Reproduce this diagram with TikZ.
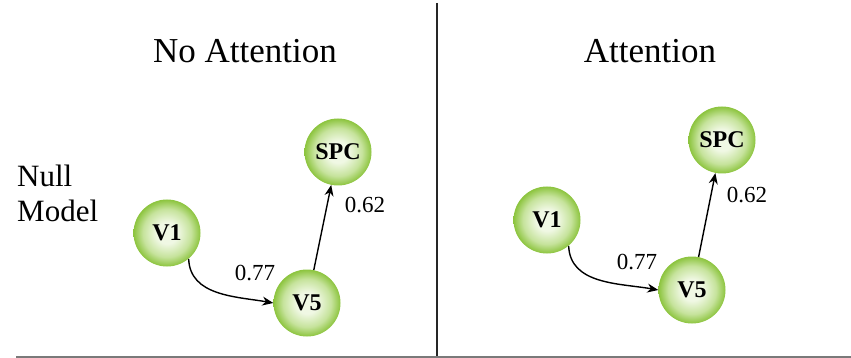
\documentclass[tikz,border=0pt]{standalone}
\usepackage{fontspec}
\setmainfont{Liberation Serif}
\usetikzlibrary{arrows.meta}
\definecolor{ballin}{HTML}{F0F8E4}
\definecolor{ballmid}{HTML}{C6E39C}
\definecolor{ballout}{HTML}{8CC43E}
\definecolor{rulegray}{HTML}{7A7A7A}
\pgfdeclareradialshading{greenball}{\pgfpoint{0bp}{0bp}}{color(0bp)=(ballin); color(8bp)=(ballin); color(18bp)=(ballmid); color(25bp)=(ballout); color(50bp)=(ballout)}
\begin{document}
\begin{tikzpicture}[x=1pt,y=-1pt,
  ball/.style={circle,minimum size=67pt,inner sep=0pt,shading=greenball,
    font=\fontsize{24}{26}\selectfont\bfseries},
  conn/.style={line width=1.4pt,-{Stealth[length=11pt,width=9pt]}},
  wlabel/.style={font=\fontsize{23}{26}\selectfont,inner sep=0pt},
  title/.style={font=\fontsize{35}{40}\selectfont,anchor=base,inner sep=0pt}]
\useasboundingbox (0,0) rectangle (851,358);
% titles
\node[title] (t1) at (245,62.7) {No Attention};
\node[title] (t2) at (650,62.7) {Attention};
\node[font=\fontsize{31}{35}\selectfont,align=left,anchor=north west,inner sep=0pt] (nm) at (17,165) {Null\\Model};
% rules
\coordinate (vt) at (437,3);
\coordinate (vb) at (437,358);
\draw[line width=2pt,black!85] (vt) -- (vb);
\coordinate (hl) at (16,357);
\coordinate (hr) at (851,357);
\draw[line width=1.6pt,rulegray] (hl) -- (hr);
% left panel
\node[ball] (v1a) at (167,233) {V1};
\node[ball] (v5a) at (307,303) {V5};
\node[ball] (spca) at (338,152) {SPC};
\draw[conn] (v1a.-50) to[out=-88,in=170] (v5a.180);
\draw[conn] (v5a) -- (spca);
\node[wlabel] (l77a) at (255,273) {0.77};
\node[wlabel] (l62a) at (365,205) {0.62};
% right panel
\node[ball] (v1b) at (547,220) {V1};
\node[ball] (v5b) at (692,290) {V5};
\node[ball] (spcb) at (722,140) {SPC};
\draw[conn] (v1b.-50) to[out=-88,in=170] (v5b.180);
\draw[conn] (v5b) -- (spcb);
\node[wlabel] (l77b) at (637,262) {0.77};
\node[wlabel] (l62b) at (747,195) {0.62};
\end{tikzpicture}
\end{document}
